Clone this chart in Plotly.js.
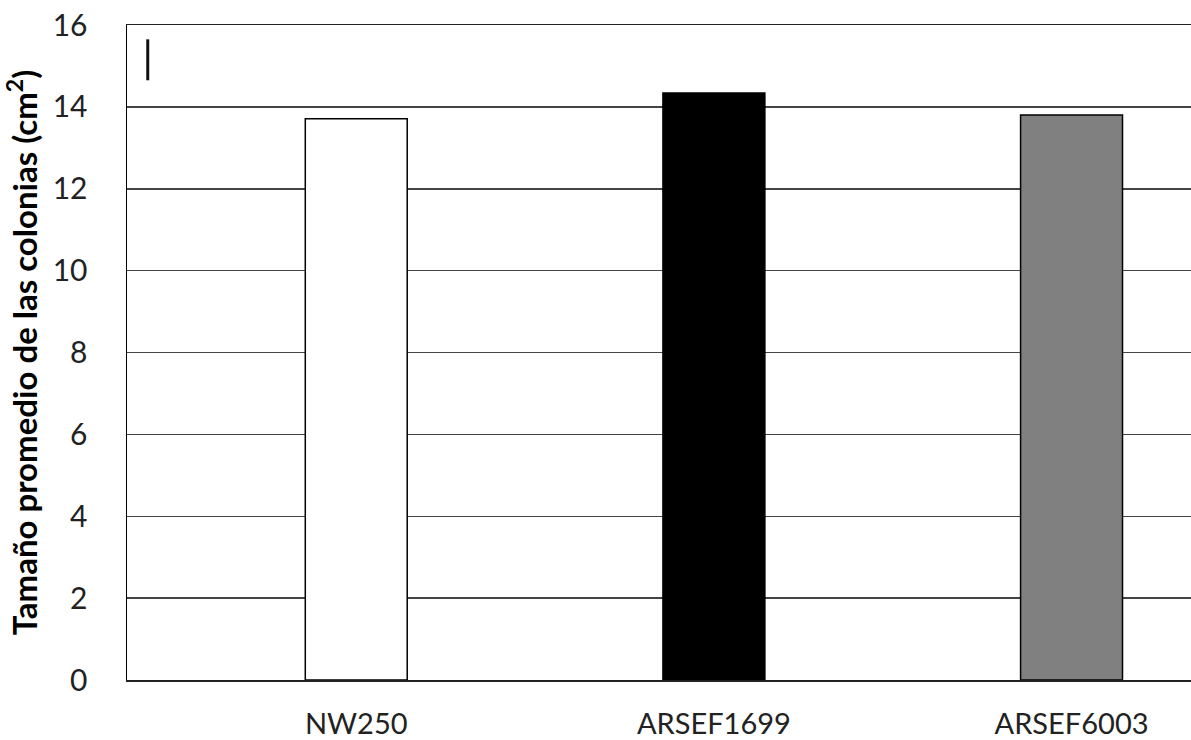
<!DOCTYPE html>
<html>
<head>
<meta charset="utf-8">
<script src="https://cdn.plot.ly/plotly-3.0.1.min.js"></script>
<style>html,body{margin:0;padding:0;background:#fff;}#chart{width:1191px;height:740px;}</style>
</head>
<body>
<div id="chart"></div>
<script>
const categories = ["NW250", "ARSEF1699", "ARSEF6003"];
const values = [13.71, 14.34, 13.80];
const barColors = ["#ffffff", "#000000", "#808080"];
const yTicks = [0, 2, 4, 6, 8, 10, 12, 14, 16];

const trace = {
  type: "bar",
  x: categories,
  y: values,
  width: 0.285,
  marker: {color: barColors, line: {color: "#000000", width: 1.5}},
  hoverinfo: "x+y"
};

const layout = {
  width: 1191, height: 740,
  margin: {l: 127, r: 0, t: 24.5, b: 60},
  paper_bgcolor: "#ffffff", plot_bgcolor: "#ffffff",
  showlegend: false,
  font: {family: "Lato, 'Open Sans', sans-serif", color: "#222", size: 30},
  xaxis: {
    type: "category",
    range: [-0.641, 2.334],
    showgrid: false,
    showline: true, mirror: true, linecolor: "#222", linewidth: 1.5,
    ticks: "outside", ticklen: 18, tickcolor: "rgba(0,0,0,0)",
    tickfont: {size: 29, color: "#222"}
  },
  yaxis: {
    range: [0, 16],
    tickvals: yTicks,
    ticktext: yTicks.map(String),
    showgrid: true, gridcolor: "#444", gridwidth: 1.5,
    zeroline: false,
    showline: true, linecolor: "#000", linewidth: 1.5,
    ticks: "outside", ticklen: 32, tickcolor: "rgba(0,0,0,0)",
    tickfont: {size: 30, color: "#222"},
    title: {text: "<b>Tamaño promedio de las colonias (cm<sup>2</sup>)</b>", font: {size: 33, color: "#000"}, standoff: 10}
  },
  shapes: [
    {type: "line", xref: "paper", yref: "y", x0: 0.0195, x1: 0.0195, y0: 14.65, y1: 15.65, line: {color: "#111", width: 3}}
  ]
};

Plotly.newPlot("chart", [trace], layout, {displayModeBar: false, staticPlot: true});
</script>
</body>
</html>
